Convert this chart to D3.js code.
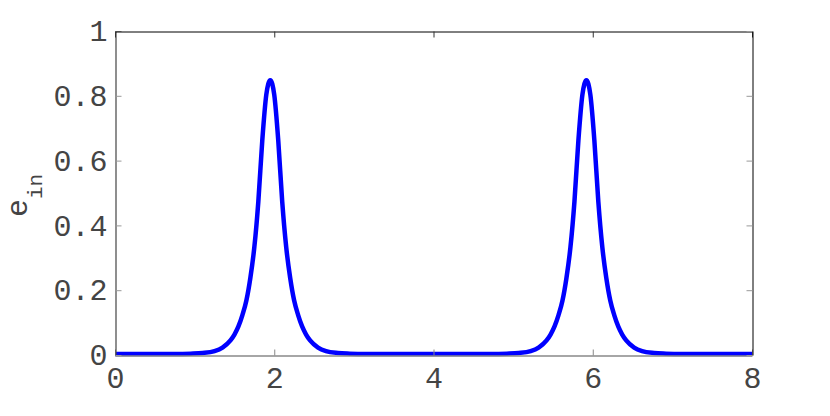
<!DOCTYPE html>
<html>
<head>
<meta charset="utf-8">
<script src="https://cdn.jsdelivr.net/npm/d3@7"></script>
<style>
    body { margin: 0; background: #fff; }
    text { font-family: "Liberation Mono", "DejaVu Sans Mono", monospace; }
</style>
</head>
<body>
<div class="chart-container"></div>
<script>
// values (two pulses, peaks near 1.95 and 5.92)
let xValues = [
    0, 0.4, 0.75, 0.95, 1.1, 1.25, 1.35, 1.45, 1.5, 1.55, 1.6, 1.65, 1.7, 1.75, 1.8, 1.85, 1.9,
    1.95,
    2.0, 2.05, 2.1, 2.15, 2.2, 2.25, 2.3, 2.35, 2.4, 2.45, 2.55, 2.65, 2.8, 2.95, 3.15,
    4, 4.72,
    4.92, 5.07, 5.22, 5.32, 5.42, 5.47, 5.52, 5.57, 5.62, 5.67, 5.72, 5.77, 5.82, 5.87,
    5.92,
    5.97, 6.02, 6.07, 6.12, 6.17, 6.22, 6.27, 6.32, 6.37, 6.42, 6.52, 6.62, 6.77, 6.92, 7.12,
    7.6, 8
]
let eValues = [
    0, 0, 0, 0.001, 0.003, 0.009, 0.02, 0.042, 0.06, 0.085, 0.12, 0.165, 0.235, 0.33, 0.47, 0.66, 0.80,
    0.845,
    0.80, 0.66, 0.47, 0.33, 0.235, 0.165, 0.12, 0.085, 0.06, 0.042, 0.02, 0.009, 0.003, 0.001, 0,
    0, 0,
    0.001, 0.003, 0.009, 0.02, 0.042, 0.06, 0.085, 0.12, 0.165, 0.235, 0.33, 0.47, 0.66, 0.80,
    0.845,
    0.80, 0.66, 0.47, 0.33, 0.235, 0.165, 0.12, 0.085, 0.06, 0.042, 0.02, 0.009, 0.003, 0.001, 0,
    0, 0
]

let xTicks = [0, 2, 4, 6, 8]
let yTicks = [0, 0.2, 0.4, 0.6, 0.8, 1]
let yTickLabels = ["0", "0.2", "0.4", "0.6", "0.8", "1"]

const data = xValues.map((x, i) => ({ x: x, e: eValues[i] }))

// Margin Convention
const margin = { top: 31, right: 78, bottom: 61, left: 115 }
const width = 830 - margin.left - margin.right;
const height = 416 - margin.top - margin.bottom;

const textColor = '#444'

const xScale = d3.scaleLinear()
    .domain([0, 8])
    .range([0, width])

const yScale = d3.scaleLinear()
    .domain([0, 1])
    .range([height, 0])

const svg = d3.select('.chart-container')
    .append('svg')
    .attr('width', 830)
    .attr('height', 416)
    .append('g')
    .attr('transform', `translate(${margin.left}, ${margin.top})`);

// Draw line
const line = d3.line()
    .x(d => xScale(d.x))
    .y(d => yScale(d.e) - 1)
    .curve(d3.curveMonotoneX)

svg.append('path')
    .datum(data)
    .attr('fill', 'none')
    .attr('stroke', '#0000ff')
    .attr('stroke-width', 4.5)
    .attr('stroke-linejoin', 'round')
    .attr('d', line)

// Draw Axes (ticks inside, on all four sides)
const tickLen = 6;

const xAxis = d3.axisBottom(xScale)
    .tickValues(xTicks)
    .tickSizeInner(-tickLen)
    .tickSizeOuter(0)
    .tickPadding(14)

const xAxisDraw = svg.append('g')
    .attr('class', 'x axis')
    .attr('transform', `translate(0, ${height + 0.5})`)
    .call(xAxis)

xAxisDraw.select('.domain').attr('stroke', '#888').attr('stroke-width', 1.5)
xAxisDraw.selectAll('.tick line').attr('stroke', '#888')
xAxisDraw.selectAll('text')
    .attr('font-size', '30px')
    .attr('fill', textColor)
    .attr('dy', '0.6em')

const yAxis = d3.axisLeft(yScale)
    .tickValues(yTicks)
    .tickFormat((d, i) => yTickLabels[i])
    .tickSizeInner(-tickLen)
    .tickSizeOuter(0)
    .tickPadding(8)

const yAxisDraw = svg.append('g')
    .attr('class', 'y axis')
    .attr('transform', `translate(0.5, 0)`)
    .call(yAxis)

yAxisDraw.select('.domain').attr('stroke', '#444').attr('stroke-width', 1.2)
yAxisDraw.selectAll('.tick line').attr('stroke', '#999')
yAxisDraw.selectAll('text')
    .attr('font-size', '30px')
    .attr('fill', textColor)

// top and right box lines with ticks
const topAxis = d3.axisTop(xScale)
    .tickValues(xTicks)
    .tickFormat('')
    .tickSizeInner(-tickLen)
    .tickSizeOuter(0)

const topDraw = svg.append('g')
    .attr('transform', `translate(0, 0.5)`)
    .call(topAxis)
topDraw.select('.domain').attr('stroke', '#000')
topDraw.selectAll('.tick line').attr('stroke', '#333')

const rightAxis = d3.axisRight(yScale)
    .tickValues(yTicks)
    .tickFormat('')
    .tickSizeInner(-tickLen)
    .tickSizeOuter(0)

const rightDraw = svg.append('g')
    .attr('transform', `translate(${width + 0.5}, 0)`)
    .call(rightAxis)
rightDraw.select('.domain').attr('stroke', '#000')
rightDraw.selectAll('.tick line').attr('stroke', '#999')

// y label: e with subscript "in"
const yLabel = svg.append('text')
    .attr('transform', `translate(${27 - margin.left}, ${height / 2 + 24}) rotate(-90)`)
    .attr('font-size', '30px')
    .attr('fill', textColor)

yLabel.append('tspan').text('e')
yLabel.append('tspan')
    .text('in')
    .attr('font-size', '21px')
    .attr('dy', 15)
</script>
</body>
</html>
